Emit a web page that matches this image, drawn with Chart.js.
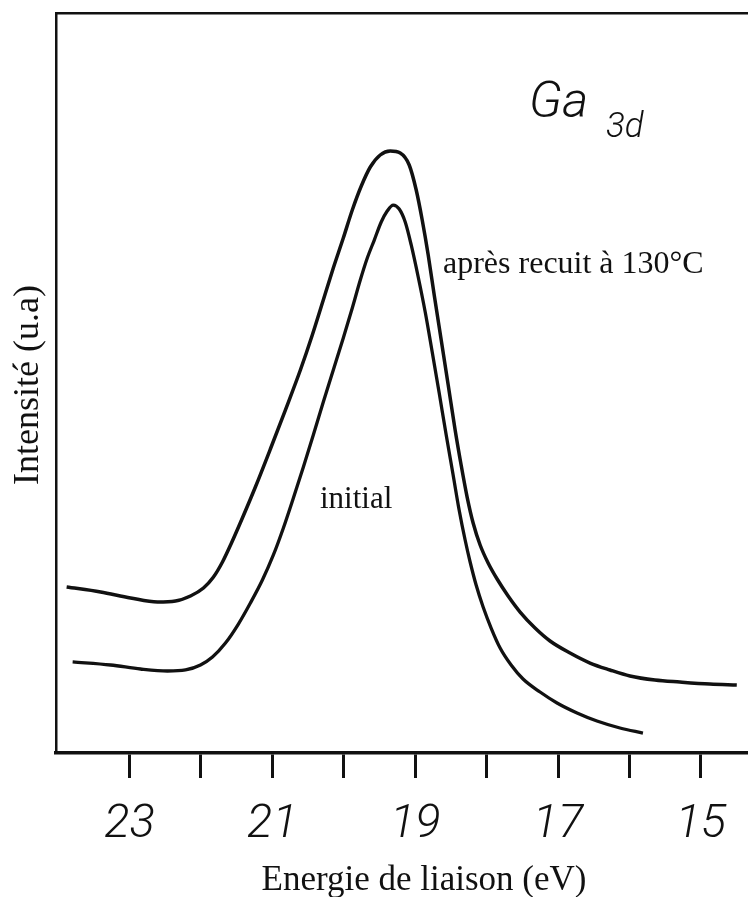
<!DOCTYPE html>
<html>
<head>
<meta charset="utf-8">
<script src="https://cdn.jsdelivr.net/npm/chart.js@4.4.1/dist/chart.umd.min.js"></script>
<style>
html,body{margin:0;padding:0;background:#fff;}
#wrap{width:748px;height:897px;position:relative;}
</style>
</head>
<body>
<div id="wrap"><canvas id="c" width="748" height="897"></canvas></div>
<script>
// Binding energy (eV) and intensity (a.u.)
const annealEnergy = [23.881,23.406,22.986,22.608,22.357,22.147,21.965,21.825,21.699,21.573,21.420,21.238,21.028,20.818,20.608,20.441,20.287,20.147,20.007,19.881,19.755,19.629,19.490,19.350,19.210,19.084,18.986,18.902,18.818,18.734,18.636,18.538,18.441,18.357,18.273,18.189,18.091,17.979,17.853,17.699,17.531,17.322,17.112,16.832,16.552,16.273,15.993,15.643,15.294,14.874,14.497];
const annealIntensity = [22.43,21.76,20.95,20.41,20.54,21.22,22.30,23.78,25.81,28.38,31.76,35.95,41.08,46.35,51.76,56.49,61.22,65.54,69.59,73.38,76.62,79.19,80.81,81.35,81.08,79.46,76.08,72.03,67.30,61.89,55.81,49.73,43.65,38.92,34.59,31.08,28.11,25.68,23.51,21.22,19.05,16.89,15.14,13.51,12.16,11.22,10.41,9.86,9.59,9.32,9.19];
const initialEnergy = [23.797,23.266,22.846,22.469,22.217,22.007,21.839,21.657,21.476,21.308,21.140,20.986,20.846,20.706,20.566,20.427,20.287,20.147,20.007,19.881,19.769,19.671,19.573,19.476,19.392,19.308,19.224,19.140,19.056,18.958,18.860,18.762,18.664,18.566,18.469,18.385,18.301,18.231,18.147,18.049,17.937,17.811,17.657,17.490,17.252,17.014,16.734,16.455,16.133,15.811];
const initialIntensity = [12.30,11.89,11.35,11.08,11.22,11.89,12.97,14.86,17.43,20.27,23.38,26.76,30.41,34.46,38.65,42.97,47.43,51.76,56.08,60.14,63.92,66.89,69.32,71.76,73.24,74.05,73.51,71.76,68.65,64.32,59.59,54.19,48.65,42.97,37.57,32.84,28.78,25.81,22.70,19.73,16.89,14.19,11.89,10.00,8.24,6.76,5.41,4.32,3.38,2.70];
const tickValues = [23,22,21,20,19,18,17,16,15];
const tickLabels = ['23','','21','','19','','17','','15'];
const xMin = 14.34, xMax = 24.03;
const xTitle = 'Energie de liaison (eV)';
const yTitle = 'Intensité (u.a)';
const seriesNames = ['après recuit à 130°C','initial'];

const toPts = (xs, ys) => xs.map((x, i) => ({x: x, y: ys[i]}));
const INK = '#111';
const TECH = 'Roboto, "DejaVu Sans", sans-serif';

const textPlugin = {
  id: 'texts',
  afterDraw(chart) {
    const ctx = chart.ctx;
    ctx.save();
    ctx.fillStyle = INK;
    ctx.textAlign = 'left';
    ctx.textBaseline = 'alphabetic';
    // Ga 3d
    ctx.font = 'italic 300 50px ' + TECH;
    ctx.fillText('Ga', 529, 117);
    ctx.font = 'italic 300 35px ' + TECH;
    ctx.fillText('3d', 606, 137);
    // curve labels
    ctx.font = '32px "Liberation Serif", "Times New Roman", serif';
    ctx.fillText(seriesNames[0], 443, 273);
    ctx.font = '31px "Liberation Serif", "Times New Roman", serif';
    ctx.fillText(seriesNames[1], 320, 508);
    // x title
    ctx.font = '35px "Liberation Serif", "Times New Roman", serif';
    ctx.textAlign = 'center';
    ctx.fillText(xTitle, 424, 890);
    // y title
    ctx.translate(38, 385);
    ctx.rotate(-Math.PI / 2);
    ctx.font = '36px "Liberation Serif", "Times New Roman", serif';
    ctx.textAlign = 'center';
    ctx.fillText(yTitle, 0, 0);
    ctx.restore();
  }
};

new Chart(document.getElementById('c'), {
  type: 'line',
  data: {
    datasets: [
      {label: seriesNames[0], data: toPts(annealEnergy, annealIntensity), borderColor: INK, borderWidth: 3.5, pointRadius: 0, cubicInterpolationMode: 'monotone', fill: false},
      {label: seriesNames[1], data: toPts(initialEnergy, initialIntensity), borderColor: INK, borderWidth: 3.3, pointRadius: 0, cubicInterpolationMode: 'monotone', fill: false}
    ]
  },
  options: {
    responsive: false,
    animation: false,
    devicePixelRatio: 1,
    layout: {padding: 0},
    plugins: {legend: {display: false}, tooltip: {enabled: false}},
    scales: {
      x: {
        type: 'linear', position: 'bottom', reverse: true, min: xMin, max: xMax,
        afterBuildTicks: s => { s.ticks = tickValues.map(v => ({value: v})); },
        afterFit: s => { s.height = 144; },
        ticks: {
          color: INK, padding: 19, maxRotation: 0, autoSkip: false,
          font: {family: TECH, size: 47, style: 'italic', weight: 300},
          callback: v => { const i = tickValues.indexOf(v); return i >= 0 ? tickLabels[i] : ''; }
        },
        grid: {display: true, drawOnChartArea: false, drawTicks: true, tickLength: 25, tickWidth: 3, tickColor: INK},
        border: {display: true, color: INK, width: 3.5}
      },
      xTop: {
        type: 'linear', position: 'top', reverse: true, min: xMin, max: xMax, display: true,
        afterFit: s => { s.height = 13; },
        ticks: {display: false},
        grid: {display: false},
        border: {display: true, color: INK, width: 2.5}
      },
      y: {
        type: 'linear', position: 'left', min: 0, max: 100, display: true,
        afterFit: s => { s.width = 56; },
        ticks: {display: false},
        grid: {display: false},
        border: {display: true, color: INK, width: 2.5}
      }
    }
  },
  plugins: [textPlugin]
});
</script>
</body>
</html>
